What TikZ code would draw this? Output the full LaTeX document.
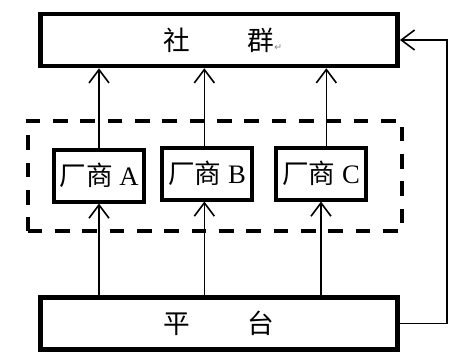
\documentclass[tikz,border=0pt]{standalone}
\usepackage{fontspec}
\setmainfont{Liberation Serif}
\newfontfamily\cjk{Noto Sans CJK SC}
\newfontfamily\symfont{DejaVu Sans}
\usetikzlibrary{arrows.meta}

\tikzset{
  mainbox/.style={draw, line width=3.4pt, minimum width=268pt, minimum height=39pt,
    inner sep=0pt, font=\fontsize{20}{22}\selectfont\cjk},
  vendorbox/.style={draw, line width=3pt, minimum width=67pt, minimum height=39pt,
    inner sep=0pt, font=\fontsize{20}{22}\selectfont},
  groupbox/.style={draw, line width=2.9pt, dash pattern=on 11pt off 9.5pt,
    minimum width=281pt, minimum height=83pt, inner sep=0pt},
  flow/.style={line width=1.2pt, -{Straight Barb[length=10pt,width=15pt,line width=1.2pt]}}
}

\begin{document}
\begin{tikzpicture}[x=0.75pt,y=-0.75pt]
  \useasboundingbox (0,0) rectangle (468,361);

  % group of vendors
  \node[groupbox] (grp) at (215,176) {};

  % top and bottom boxes
  \node[mainbox] (club) at (219,40)
    {社\hspace{43pt}群\rlap{\textcolor{gray}{\symfont\fontsize{7}{8}\selectfont ↵}}};
  \node[mainbox] (plat) at (219,323.5) {平\hspace{43pt}台};

  % vendors
  \node[vendorbox] (vA) at (99,175.5) {{\cjk 厂商} A};
  \node[vendorbox] (vB) at (207,173.5) {{\cjk 厂商} B};
  \node[vendorbox] (vC) at (321,173.5) {{\cjk 厂商} C};

  % vendors up to the club
  \draw[flow] (vA.north) -- (vA.north |- club.south);
  \draw[flow] ([xshift=-2pt]vB.north) -- ([xshift=-2pt]vB.north |- club.south);
  \draw[flow] ([xshift=4pt]vC.north) -- ([xshift=4pt]vC.north |- club.south);

  % platform up to the vendors
  \draw[flow] (vA.south |- plat.north) -- (vA.south);
  \draw[flow] ([xshift=-2pt]vB.south |- plat.north) -- ([xshift=-2pt]vB.south);
  \draw[flow] (vC.south |- plat.north) -- (vC.south);

  % platform round to the club
  \draw[flow] (plat.east) -- ++(47,0) |- (club.east);
\end{tikzpicture}
\end{document}
